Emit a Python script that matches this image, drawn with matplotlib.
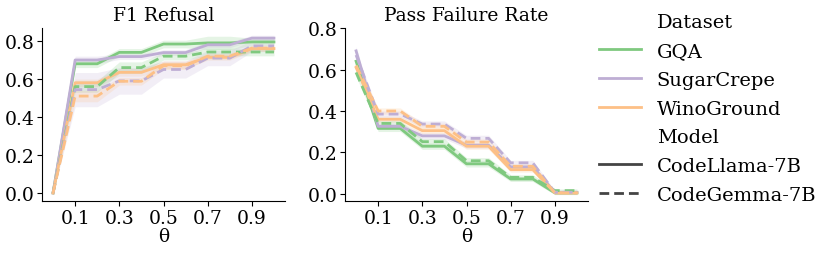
import matplotlib
matplotlib.use("Agg")
import matplotlib.pyplot as plt
from matplotlib.lines import Line2D
import numpy as np

plt.rcParams['font.family'] = ['DejaVu Serif']

theta = [0.0, 0.1, 0.2, 0.3, 0.4, 0.5, 0.6, 0.7, 0.8, 0.9, 1.0]
datasets = ['GQA', 'SugarCrepe', 'WinoGround']
models = ['CodeLlama-7B', 'CodeGemma-7B']
colors = ['#7fc97f', '#beaed4', '#fdc086']

# F1 Refusal (mean per theta)
f1_gqa_llama = [0.0, 0.68, 0.68, 0.74, 0.74, 0.784, 0.784, 0.79, 0.79, 0.795, 0.795]
f1_sugar_llama = [0.0, 0.70, 0.70, 0.718, 0.718, 0.739, 0.739, 0.78, 0.78, 0.815, 0.815]
f1_wino_llama = [0.0, 0.58, 0.58, 0.635, 0.635, 0.675, 0.675, 0.714, 0.714, 0.76, 0.76]
f1_gqa_gemma = [0.0, 0.56, 0.56, 0.66, 0.66, 0.72, 0.72, 0.742, 0.742, 0.742, 0.742]
f1_sugar_gemma = [0.0, 0.544, 0.544, 0.59, 0.59, 0.65, 0.65, 0.71, 0.71, 0.774, 0.774]
f1_wino_gemma = [0.0, 0.51, 0.51, 0.588, 0.588, 0.67, 0.67, 0.72, 0.72, 0.762, 0.762]

# F1 band half-widths
f1_gqa_llama_ci = [0.0, 0.02, 0.02, 0.02, 0.02, 0.02, 0.02, 0.035, 0.035, 0.02, 0.02]
f1_sugar_llama_ci = [0.0, 0.02, 0.02, 0.015, 0.015, 0.015, 0.015, 0.015, 0.015, 0.015, 0.015]
f1_wino_llama_ci = [0.0, 0.02, 0.02, 0.02, 0.02, 0.02, 0.02, 0.015, 0.015, 0.015, 0.015]
f1_gqa_gemma_ci = [0.0, 0.03, 0.03, 0.03, 0.03, 0.02, 0.02, 0.02, 0.02, 0.02, 0.02]
f1_sugar_gemma_ci = [0.0, 0.09, 0.09, 0.07, 0.07, 0.045, 0.045, 0.04, 0.04, 0.03, 0.03]
f1_wino_gemma_ci = [0.0, 0.03, 0.03, 0.02, 0.02, 0.02, 0.02, 0.015, 0.015, 0.015, 0.015]

# Pass Failure Rate (mean per theta)
pf_gqa_llama = [0.64, 0.316, 0.316, 0.23, 0.23, 0.145, 0.145, 0.072, 0.072, 0.005, 0.005]
pf_sugar_llama = [0.69, 0.326, 0.326, 0.28, 0.28, 0.235, 0.235, 0.13, 0.13, 0.008, 0.008]
pf_wino_llama = [0.61, 0.36, 0.36, 0.305, 0.305, 0.23, 0.23, 0.117, 0.117, 0.005, 0.005]
pf_gqa_gemma = [0.586, 0.34, 0.34, 0.252, 0.252, 0.16, 0.16, 0.08, 0.08, 0.016, 0.016]
pf_sugar_gemma = [0.67, 0.385, 0.385, 0.337, 0.337, 0.268, 0.268, 0.15, 0.15, 0.008, 0.008]
pf_wino_gemma = [0.62, 0.40, 0.40, 0.326, 0.326, 0.25, 0.25, 0.133, 0.133, 0.005, 0.005]

pf_ci = [0.02, 0.015, 0.015, 0.015, 0.015, 0.015, 0.015, 0.012, 0.012, 0.008, 0.008]

f1_means = [[f1_gqa_llama, f1_sugar_llama, f1_wino_llama],
            [f1_gqa_gemma, f1_sugar_gemma, f1_wino_gemma]]
f1_cis = [[f1_gqa_llama_ci, f1_sugar_llama_ci, f1_wino_llama_ci],
          [f1_gqa_gemma_ci, f1_sugar_gemma_ci, f1_wino_gemma_ci]]
pf_means = [[pf_gqa_llama, pf_sugar_llama, pf_wino_llama],
            [pf_gqa_gemma, pf_sugar_gemma, pf_wino_gemma]]
pf_cis = [[pf_ci] * 3, [pf_ci] * 3]

styles = ['-', (0, (3.5, 1.8))]

fig = plt.figure(figsize=(8.3, 2.55), dpi=100)
ax1 = fig.add_axes([0.0506, 0.208, 0.2928, 0.678])
ax2 = fig.add_axes([0.4157, 0.208, 0.2927, 0.678])

def draw(ax, means, cis, title, ylim):
    x = np.array(theta)
    for m in range(2):
        for d in range(3):
            y = np.array(means[m][d])
            e = np.array(cis[m][d])
            ax.fill_between(x, y - e, y + e, color=colors[d], alpha=0.2, lw=0)
            ax.plot(x, y, color=colors[d], ls=styles[m], lw=2)
    ax.set_title(title, fontsize=13.5, pad=6)
    ax.set_xlim(-0.05, 1.05)
    ax.set_ylim(*ylim)
    ax.set_xticks([0.1, 0.3, 0.5, 0.7, 0.9])
    ax.set_yticks([0.0, 0.2, 0.4, 0.6, 0.8])
    ax.set_xticklabels(['0.1', '0.3', '0.5', '0.7', '0.9'])
    ax.set_yticklabels(['0.0', '0.2', '0.4', '0.6', '0.8'])
    ax.tick_params(labelsize=13.5, length=3.5, width=0.8, pad=2)
    ax.set_xlabel('θ', fontsize=13.5, labelpad=0)
    ax.spines['top'].set_visible(False)
    ax.spines['right'].set_visible(False)

draw(ax1, f1_means, f1_cis, 'F1 Refusal', (-0.042, 0.868))
draw(ax2, pf_means, pf_cis, 'Pass Failure Rate', (-0.034, 0.8))

blank = Line2D([], [], color='none')
handles = [blank] + [Line2D([], [], color=c, lw=2) for c in colors] + [blank] + \
    [Line2D([], [], color='#444444', ls=s, lw=2) for s in styles]
labels = ['Dataset'] + datasets + ['Model'] + models
fig.legend(handles, labels, loc='upper left', bbox_to_anchor=(0.712, 0.975),
           frameon=False, fontsize=14, handlelength=2.16, handletextpad=0.82,
           labelspacing=0.555, borderaxespad=0)

fig.savefig('out.png', dpi=100)
